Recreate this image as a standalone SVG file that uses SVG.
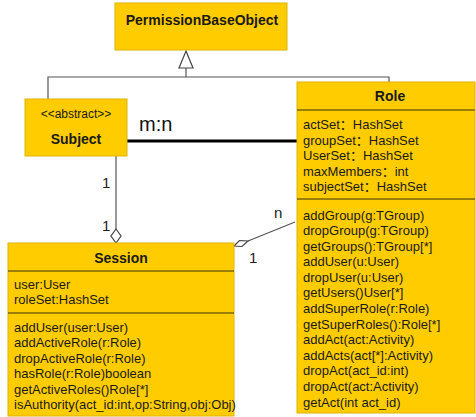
<svg xmlns="http://www.w3.org/2000/svg" width="476" height="417" viewBox="0 0 476 417">
<style>
.box{fill:#ffcc00;stroke:#e0b400;stroke-width:1}
.div{stroke:#3a3000;stroke-width:1.2}
.t{font-family:"Liberation Sans",Arial,"Noto Sans CJK SC",sans-serif;font-size:13px;fill:#1a1a1a}
.b{font-family:"Liberation Sans",Arial,sans-serif;font-size:14px;font-weight:bold;fill:#1a1a1a;text-anchor:middle}
.lbl{font-family:"Liberation Sans",Arial,sans-serif;font-size:15px;fill:#222}
.ln{fill:none;stroke:#555;stroke-width:1.2}
</style>
<rect width="476" height="417" fill="#ffffff"/>
<g id="connectors">
  <polyline class="ln" points="48,99 48,77 389,77 389,82"/>
  <line class="ln" x1="186" y1="77" x2="186" y2="68"/>
  <polygon points="186,51 193,68 179,68" fill="#ffffff" stroke="#444" stroke-width="1.2"/>
  <line x1="127" y1="141" x2="297" y2="141" stroke="#000" stroke-width="3"/>
  <text x="139" y="131" font-family="Liberation Sans,Arial,sans-serif" font-size="20" fill="#111">m:n</text>
  <line class="ln" x1="116" y1="156" x2="116" y2="229"/>
  <polygon points="116,229 121,236 116,243 111,236" fill="#ffffff" stroke="#444" stroke-width="1.2"/>
  <text class="lbl" x="102" y="188">1</text>
  <text class="lbl" x="102" y="231">1</text>
  <line class="ln" x1="248" y1="241" x2="295" y2="222"/>
  <polygon points="234,246 239.5,240.5 248,241 242,246.5" fill="#ffffff" stroke="#444" stroke-width="1.2"/>
  <text class="lbl" x="274" y="218">n</text>
  <text class="lbl" x="249" y="263">1</text>
</g>
<g id="PermissionBaseObject">
  <rect class="box" x="115" y="3" width="172" height="47"/>
  <text class="b" x="202" y="25">PermissionBaseObject</text>
</g>
<g id="Subject">
  <rect class="box" x="25" y="99" width="102" height="57"/>
  <text x="76" y="118" font-family="Liberation Sans,Arial,sans-serif" font-size="12" fill="#1a1a1a" text-anchor="middle">&lt;&lt;abstract&gt;&gt;</text>
  <text class="b" x="76" y="144">Subject</text>
</g>
<g id="Role">
  <rect class="box" x="297" y="82" width="178" height="331"/>
  <text class="b" x="390" y="101">Role</text>
  <line class="div" x1="297" y1="110" x2="475" y2="110"/>
  <text class="t" x="303" y="129">actSet：HashSet</text>
  <text class="t" x="303" y="144.5">groupSet：HashSet</text>
  <text class="t" x="303" y="160">UserSet：HashSet</text>
  <text class="t" x="303" y="175.5">maxMembers：int</text>
  <text class="t" x="303" y="191">subjectSet：HashSet</text>
  <line class="div" x1="297" y1="199" x2="475" y2="199"/>
  <text class="t" x="303" y="219.5">addGroup(g:TGroup)</text>
  <text class="t" x="303" y="235.1">dropGroup(g:TGroup)</text>
  <text class="t" x="303" y="250.7">getGroups():TGroup[*]</text>
  <text class="t" x="303" y="266.2">addUser(u:User)</text>
  <text class="t" x="303" y="281.8">dropUser(u:User)</text>
  <text class="t" x="303" y="297.4">getUsers()User[*]</text>
  <text class="t" x="303" y="313">addSuperRole(r:Role)</text>
  <text class="t" x="303" y="328.6">getSuperRoles():Role[*]</text>
  <text class="t" x="303" y="344.1">addAct(act:Activity)</text>
  <text class="t" x="303" y="359.7">addActs(act[*]:Activity)</text>
  <text class="t" x="303" y="375.3">dropAct(act_id:int)</text>
  <text class="t" x="303" y="390.9">dropAct(act:Activity)</text>
  <text class="t" x="303" y="406.5">getAct(int act_id)</text>
</g>
<g id="Session">
  <rect class="box" x="8" y="243" width="226" height="173"/>
  <text class="b" x="121" y="263">Session</text>
  <line class="div" x1="8" y1="271" x2="234" y2="271"/>
  <text class="t" x="14" y="288.5">user:User</text>
  <text class="t" x="14" y="304">roleSet:HashSet</text>
  <line class="div" x1="8" y1="313" x2="234" y2="313"/>
  <text class="t" x="14" y="331.5">addUser(user:User)</text>
  <text class="t" x="14" y="347">addActiveRole(r:Role)</text>
  <text class="t" x="14" y="362.5">dropActiveRole(r:Role)</text>
  <text class="t" x="14" y="378">hasRole(r:Role)boolean</text>
  <text class="t" x="14" y="393.5">getActiveRoles()Role[*]</text>
  <text class="t" x="14" y="409">isAuthority(act_id:int,op:String,obj:Obj)</text>
</g>
</svg>
